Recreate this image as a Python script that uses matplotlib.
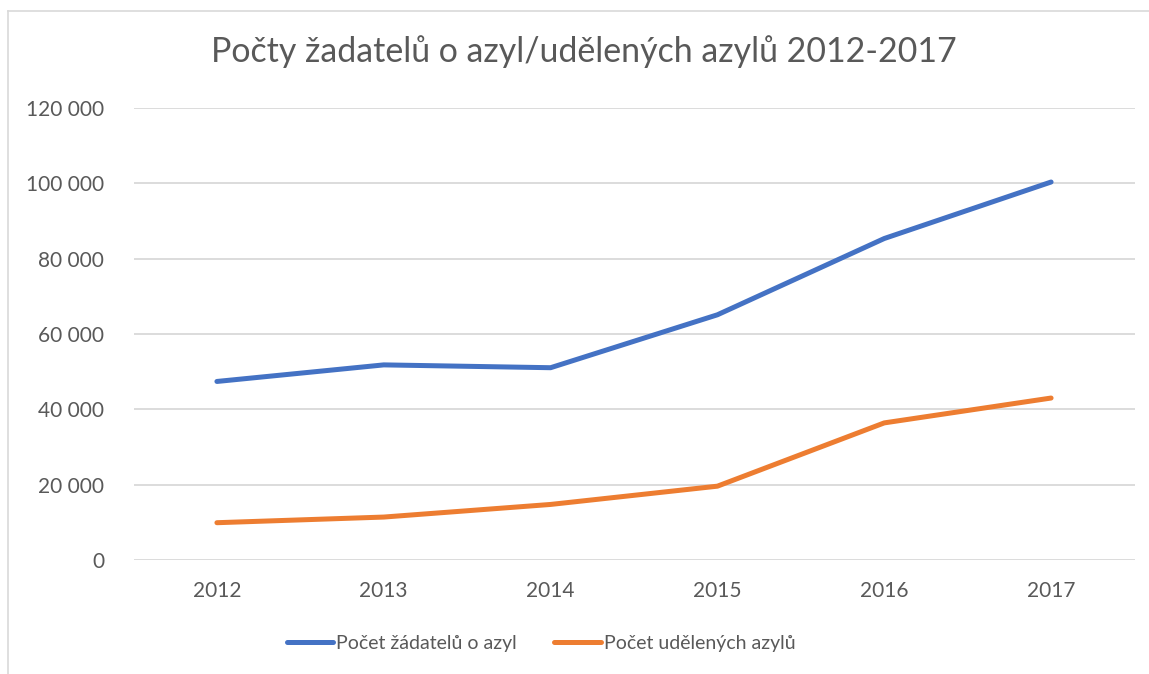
import matplotlib
matplotlib.use("Agg")
import matplotlib.pyplot as plt
from matplotlib.lines import Line2D
from matplotlib.ticker import FuncFormatter

years = ["2012", "2013", "2014", "2015", "2016", "2017"]
zadatele = [47400, 51800, 51050, 65100, 85350, 100350]
udelene = [9900, 11400, 14750, 19600, 36400, 43000]
series_names = ["Počet žádatelů o azyl", "Počet udělených azylů"]
title = "Počty žadatelů o azyl/udělených azylů 2012-2017"

plt.rcParams['font.family'] = ['Lato', 'DejaVu Sans']
text_color = "#595959"
grid_color = "#D9D9D9"

W, H = 1149, 674
fig = plt.figure(figsize=(W / 100, H / 100), dpi=100)
ax = fig.add_axes([133.5 / W, 1 - 560 / H, 1001 / W, 452 / H])

x = list(range(len(years)))
ax.plot(x, zadatele, color="#4472C4", lw=3.6, solid_capstyle="round",
        solid_joinstyle="round", label=series_names[0])
ax.plot(x, udelene, color="#ED7D31", lw=3.6, solid_capstyle="round",
        solid_joinstyle="round", label=series_names[1])

ax.set_xlim(-0.5, len(years) - 0.5)
ax.set_ylim(0, 120000)
ax.set_yticks(range(0, 120001, 20000))
ax.yaxis.set_major_formatter(FuncFormatter(lambda v, p: f"{int(v):,}".replace(",", " ")))
ax.set_xticks(x)
ax.set_xticklabels(years)
ax.grid(axis="y", color=grid_color, lw=1.3)
ax.set_axisbelow(True)
for s in ax.spines.values():
    s.set_visible(False)
ax.tick_params(axis="both", length=0, colors=text_color, labelsize=15)
ax.tick_params(axis="y", pad=21)
ax.tick_params(axis="x", pad=15)

fig.text(584 / W, 1 - 52 / H, title, ha="center", va="center",
         fontsize=24.4, color=text_color)

leg = fig.legend(loc="center", bbox_to_anchor=(541 / W, 1 - 643 / H), ncol=2,
                 frameon=False, fontsize=14, handlelength=2.4,
                 handletextpad=0.15, columnspacing=1.9)
for t in leg.get_texts():
    t.set_color(text_color)

# chart frame
fig.add_artist(Line2D([8 / W, 8 / W], [0, 1 - 10.5 / H], transform=fig.transFigure,
                      color=grid_color, lw=1.2))
fig.add_artist(Line2D([8 / W, 1], [1 - 10.5 / H, 1 - 10.5 / H], transform=fig.transFigure,
                      color=grid_color, lw=1.2))

fig.savefig("out.png", dpi=100, facecolor="white")
